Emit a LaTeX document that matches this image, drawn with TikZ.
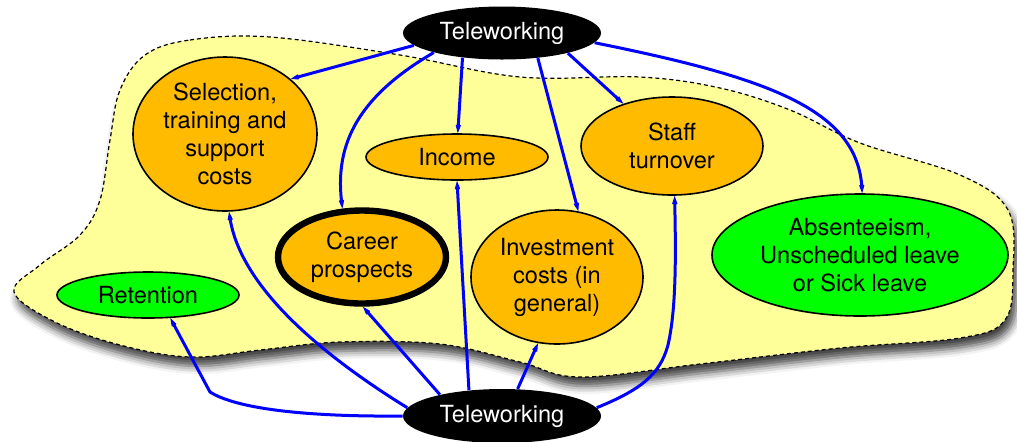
\documentclass[tikz,border=0pt]{standalone}
\usepackage{fontspec}
\setmainfont{TeX Gyre Heros}
\usetikzlibrary{shapes.geometric,arrows.meta,shadows.blur}
\definecolor{blobfill}{HTML}{FFFF99}
\definecolor{nodeorange}{HTML}{FFBB00}
\definecolor{nodegreen}{HTML}{00FF00}
\begin{document}
\begin{tikzpicture}[x=0.5pt,y=-0.5pt,
  every node/.style={font=\fontsize{11.8}{14}\selectfont, align=center},
  bubble/.style={ellipse, draw=black, line width=0.8pt, inner sep=0pt},
  orangenode/.style={bubble, fill=nodeorange},
  greennode/.style={bubble, fill=nodegreen},
  telenode/.style={ellipse, fill=black, text=white, inner sep=0pt, minimum width=99pt, minimum height=26.5pt},
  link/.style={draw=blue, line width=1.5pt, -{Stealth[length=9pt,width=6pt,inset=6pt]}},
  ]
\useasboundingbox (0,0) rectangle (1017,441);
% background blob
\path[fill=blobfill, draw=black, line width=0.6pt, dash pattern=on 2pt off 1.5pt,
  blur shadow={shadow xshift=2pt, shadow yshift=-4.5pt, shadow blur radius=4pt, shadow opacity=75}]
  plot[smooth cycle, tension=0.6] coordinates {
  (145,55) (190,40) (270,37) (400,55) (520,77) (640,77) (720,88) (790,110)
  (860,143) (960,175) (1008,210) (1013,270) (1005,320) (960,338) (840,348)
  (700,364) (580,377) (520,362) (440,344) (340,342) (260,350) (190,357)
  (120,345) (55,322) (14,292) (40,265) (80,235) (100,200) (110,140) (120,90)};
% nodes
\node[telenode] (T1) at (502,33) {Teleworking};
\node[telenode, minimum height=27pt] (T2) at (502,416) {\raisebox{-2pt}{Teleworking}};
\node[orangenode, minimum width=92pt, minimum height=77pt] (Sel) at (225,134) {Selection,\\training and\\support\\costs};
\node[orangenode, minimum width=91pt, minimum height=23pt] (Inc) at (457,157) {Income};
\node[orangenode, minimum width=91pt, minimum height=49pt] (Staff) at (672,146) {Staff\\turnover};
\node[greennode, minimum width=148pt, minimum height=61pt] (Abs) at (860,255) {Absenteeism,\\Unscheduled leave\\or Sick leave};
\node[orangenode, line width=3.2pt, minimum width=84pt, minimum height=46.5pt] (Car) at (362,257) {Career\\prospects};
\node[orangenode, minimum width=86pt, minimum height=67pt] (Inv) at (557,277) {Investment\\costs (in\\general)};
\node[greennode, minimum width=91pt, minimum height=23pt] (Ret) at (148,295) {Retention};
% links from top Teleworking
\draw[link] (T1.188) -- (Sel.40);
\draw[link] (T1.196) .. controls (352,100) and (335,150) .. (Car.112);
\draw[link] (T1.212) -- (Inc.88);
\draw[link] (T1.-35) -- (Inv.72);
\draw[link] (T1.-17) -- (Staff.139);
\draw[link] (T1.-6) .. controls (770,78) and (858,110) .. (Abs.88);
% links from bottom Teleworking
\draw[link] (T2.180) .. controls (290,417) and (232,406) .. (210,392) -- (Ret.-46);
\draw[link] (T2.175) .. controls (330,360) and (240,290) .. (Sel.-87);
\draw[link] (T2.161) -- (Car.-89);
\draw[link] (T2.142) -- (Inc.-90);
\draw[link] (T2.60) -- (Inv.254);
\draw[link] (T2.5) .. controls (640,390) and (660,375) .. (668,345) .. controls (676,310) and (676,260) .. (Staff.-87);
\end{tikzpicture}
\end{document}
